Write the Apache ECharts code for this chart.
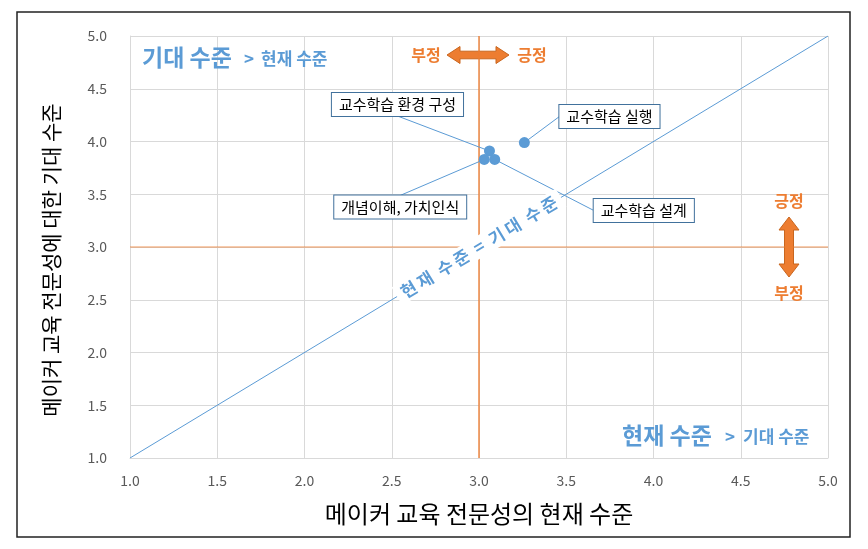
<!DOCTYPE html>
<html><head><meta charset="utf-8">
<script src="https://cdn.jsdelivr.net/npm/echarts@6/dist/echarts.min.js"></script>
<style>html,body{margin:0;padding:0;background:#fff}#c{width:868px;height:549px}</style>
</head><body><div id="c"></div>
<script>
// ---- data ----
var pointNames = ['교수학습 환경 구성', '교수학습 실행', '개념이해, 가치인식', '교수학습 설계'];
var currentLevel = [3.06, 3.26, 3.03, 3.09];   // x: 현재 수준
var expectedLevel = [3.91, 3.99, 3.83, 3.83];  // y: 기대 수준
var diagonalX = [1, 5];
var diagonalY = [1, 5];
var refX = 3.0, refY = 3.0;
var tickValues = [1.0, 1.5, 2.0, 2.5, 3.0, 3.5, 4.0, 4.5, 5.0];

// ---- label layout (pixel offsets from point) ----
var labelLayout = [
  {dx: -92, dy: -35, align: 'center', va: 'bottom'},
  {dx: 35, dy: -26, align: 'left', va: 'middle'},
  {dx: -84, dy: 36, align: 'center', va: 'top'},
  {dx: 99, dy: 51, align: 'left', va: 'middle'}
];

var FONT = '"Noto Sans CJK KR", "Noto Sans", sans-serif';
var BLUE = '#5B9BD5', ORANGE = '#ED7D31';
var AX_MIN = tickValues[0], AX_MAX = tickValues[tickValues.length - 1];

var pts = currentLevel.map(function (x, i) { return [x, expectedLevel[i]]; });
var diag = diagonalX.map(function (x, i) { return [x, diagonalY[i]]; });
var vRef = [[refX, AX_MIN], [refX, AX_MAX]];
var hRef = [[AX_MIN, refY], [AX_MAX, refY]];

var chart = echarts.init(document.getElementById('c'));

var axisCommon = {
  type: 'value', min: AX_MIN, max: AX_MAX, interval: 0.5,
  axisLine: {show: true, lineStyle: {color: '#D9D9D9'}},
  axisTick: {show: false},
  splitLine: {show: true, lineStyle: {color: '#D9D9D9', width: 1}},
  axisLabel: {color: '#595959', fontSize: 14, fontFamily: FONT, formatter: function (v) { return v.toFixed(1); }}
};

var option = {
  animation: false,
  backgroundColor: '#fff',
  grid: {left: 130, right: 40, top: 36, bottom: 91},
  xAxis: Object.assign({}, axisCommon, {
    axisLabel: Object.assign({}, axisCommon.axisLabel, {margin: 16}),
    name: '메이커 교육 전문성의 현재 수준', nameLocation: 'middle', nameGap: 44,
    nameTextStyle: {fontSize: 24, color: '#000', fontFamily: FONT}
  }),
  yAxis: Object.assign({}, axisCommon, {
    axisLabel: Object.assign({}, axisCommon.axisLabel, {margin: 23})
  }),
  series: [
    {type: 'line', data: hRef, symbol: 'none', z: 2, silent: true, lineStyle: {color: ORANGE, width: 1, opacity: 0.8}},
    {type: 'line', data: vRef, symbol: 'none', z: 2, silent: true, lineStyle: {color: ORANGE, width: 1.6, opacity: 0.85}},
    {type: 'line', data: diag, symbol: 'none', z: 3, silent: true, lineStyle: {color: BLUE, width: 1}},
    {
      type: 'custom', z: 5,
      data: pts,
      renderItem: function (params, api) {
        var i = params.dataIndex;
        var p = api.coord([api.value(0), api.value(1)]);
        var L = labelLayout[i];
        var ax = p[0] + L.dx, ay = p[1] + L.dy;
        return {
          type: 'group',
          children: [
            {type: 'line', z2: 1, shape: {x1: p[0], y1: p[1], x2: ax, y2: ay}, style: {stroke: BLUE, lineWidth: 1}},
            {type: 'circle', z2: 10, shape: {cx: p[0], cy: p[1], r: 5.5}, style: {fill: BLUE}},
            {type: 'text', z2: 20, x: ax, y: ay, style: {
              text: pointNames[i], font: '15px ' + FONT, fill: '#000',
              align: L.align, verticalAlign: L.va,
              backgroundColor: '#fff', borderColor: '#41719C', borderWidth: 1, padding: [4, 7, 4, 7]
            }}
          ]
        };
      }
    }
  ],
  graphic: []
};
chart.setOption(option);

// annotations
var c11 = chart.convertToPixel({gridIndex: 0}, [AX_MIN, AX_MIN]);
var c55 = chart.convertToPixel({gridIndex: 0}, [AX_MAX, AX_MAX]);
var diagCenter = chart.convertToPixel({gridIndex: 0}, [refX, refY]);
var angle = Math.atan2(c11[1] - c55[1], c55[0] - c11[0]);

function t(x, y, text, font, color, align) {
  return {type: 'text', z: 10, x: x, y: y, style: {text: text, font: font, fill: color, align: align || 'left', verticalAlign: 'middle'}};
}
var BIG = 'bold 23px ' + FONT, SMALL = 'bold 17px ' + FONT, OR = 'bold 16px ' + FONT;

chart.setOption({
  graphic: [
    // outer frame
    {type: 'rect', z: 0, shape: {x: 17, y: 12, width: 833, height: 525}, style: {fill: 'none', stroke: '#222', lineWidth: 1.5}},
    // y axis name
    {type: 'text', z: 10, x: 51, y: 260, rotation: Math.PI / 2, style: {
      text: '메이커 교육 전문성에 대한 기대 수준', font: '21px ' + FONT, fill: '#000', align: 'center', verticalAlign: 'middle'}},
    // top-left
    t(142, 57, '기대 수준', BIG, BLUE),
    t(244, 59, '>', SMALL, BLUE),
    t(261, 59, '현재 수준', SMALL, BLUE),
    // bottom-right
    t(622, 435, '현재 수준', BIG, BLUE),
    t(725, 437, '>', SMALL, BLUE),
    t(743, 437, '기대 수준', SMALL, BLUE),
    // diagonal label
    {type: 'text', z: 10, x: diagCenter[0], y: diagCenter[1], rotation: angle, style: {
      text: '현\u2009재  수\u2009준  =  기\u2009대  수\u2009준', font: 'bold 17px ' + FONT, fill: BLUE, align: 'center', verticalAlign: 'middle',
      backgroundColor: '#fff', padding: [2, 6]}},
    // horizontal arrow + texts
    t(426, 55, '부정', OR, ORANGE, 'center'),
    t(532, 55, '긍정', OR, ORANGE, 'center'),
    {type: 'polygon', z: 1, shape: {points: [[447,55],[460,46.5],[460,51.2],[496,51.2],[496,46.5],[509,55],[496,63.5],[496,58.8],[460,58.8],[460,63.5]]},
      style: {fill: ORANGE, stroke: '#C9661F', lineWidth: 1}},
    // vertical arrow + texts
    t(789, 201, '긍정', OR, ORANGE, 'center'),
    t(789, 293, '부정', OR, ORANGE, 'center'),
    {type: 'polygon', z: 1, shape: {points: [[789,217],[799,230],[793.5,230],[793.5,264],[799,264],[789,277],[779,264],[784.5,264],[784.5,230],[779,230]]},
      style: {fill: ORANGE, stroke: '#C9661F', lineWidth: 1}}
  ]
});
</script></body></html>
